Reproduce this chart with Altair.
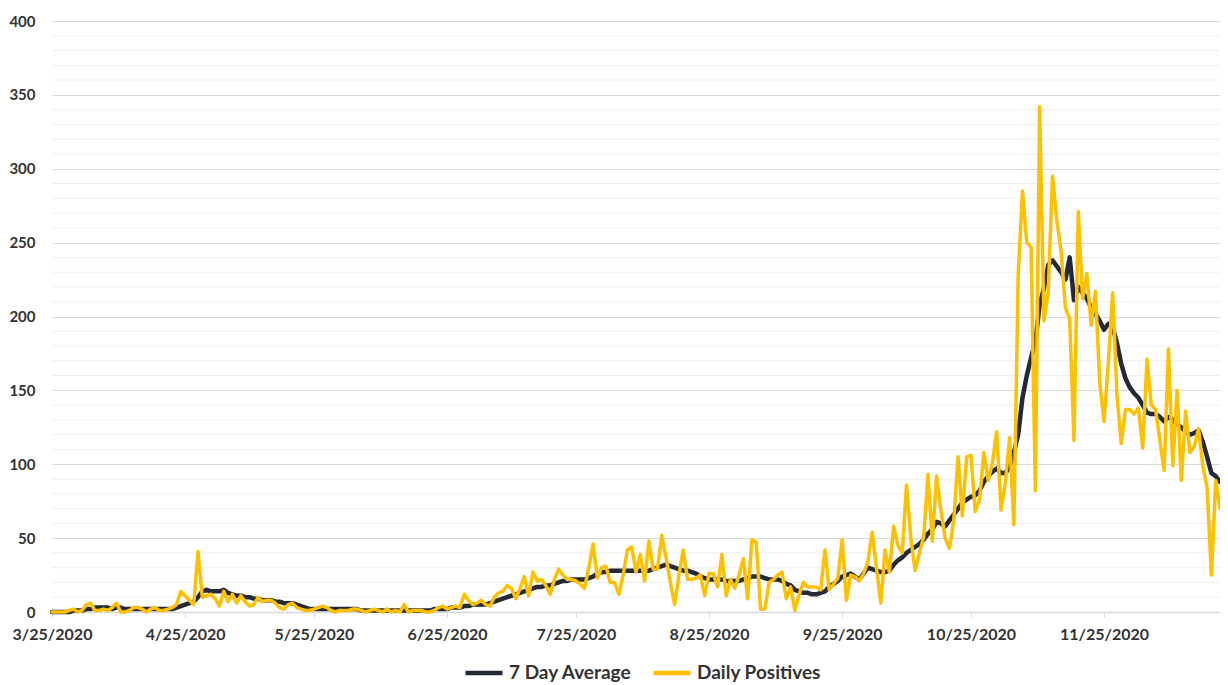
import altair as alt
import pandas as pd

start_date = "2020-03-25"
series_names = ["7 Day Average", "Daily Positives"]
series_colors = ["#232a36", "#ffc000"]

daily_positives = [
    0, 0, 0, 0, 1, 2, 0, 1, 5, 6, 1, 1, 2, 1, 3, 6, 0, 0, 1, 3, 3, 2, 0, 2, 3, 1, 1, 2, 3, 5,
    14, 11, 8, 5, 41, 10, 11, 12, 9, 4, 14, 7, 12, 6, 11, 7, 4, 5, 10, 7, 8, 8, 6, 3, 2, 5, 6, 3, 2, 1,
    1, 2, 3, 4, 3, 1, 0, 1, 1, 1, 2, 2, 1, 0, 1, 2, 1, 0, 2, 0, 1, 0, 5, 0, 1, 1, 1, 0, 0, 1,
    3, 4, 2, 3, 4, 3, 12, 8, 5, 6, 8, 5, 4, 10, 13, 14, 18, 16, 9, 16, 24, 11, 27, 21, 22, 18, 12, 22, 29, 25,
    22, 22, 21, 19, 16, 30, 46, 23, 30, 31, 20, 20, 12, 25, 42, 44, 27, 39, 21, 48, 29, 29, 52, 37, 20, 5, 25, 42, 22, 22,
    23, 25, 11, 26, 26, 17, 39, 11, 22, 16, 25, 36, 9, 49, 47, 2, 2, 20, 22, 25, 27, 9, 17, 1, 12, 20, 17, 17, 17, 15,
    42, 15, 19, 23, 49, 8, 25, 24, 21, 26, 34, 54, 30, 6, 42, 27, 58, 45, 40, 86, 50, 28, 40, 51, 93, 48, 92, 69, 50, 43,
    62, 105, 65, 105, 106, 68, 76, 108, 89, 101, 122, 69, 87, 118, 59, 228, 285, 250, 247, 82, 342, 197, 217, 295, 265, 244, 206, 198, 116, 271,
    212, 229, 194, 217, 155, 129, 169, 216, 147, 114, 137, 137, 134, 138, 111, 171, 140, 137, 116, 96, 178, 99, 150, 89, 136, 108, 112, 124, 99, 84,
    25, 89, 70,
]

seven_day_avg = [
    0, 0, 0, 0, 0, 1, 1, 1, 2, 2, 3, 3, 3, 3, 2, 3, 3, 2, 2, 2, 2, 2, 2, 2, 2, 2, 2, 2, 2, 3,
    4, 5, 6, 7, 10, 14, 15, 14, 14, 14, 15, 13, 12, 11, 11, 10, 10, 9, 9, 8, 8, 8, 7, 7, 6, 6, 6, 5, 4, 3,
    2, 2, 2, 2, 2, 2, 2, 2, 2, 2, 2, 2, 1, 1, 1, 1, 1, 1, 1, 1, 1, 1, 1, 1, 1, 1, 1, 1, 1, 2,
    2, 2, 2, 3, 3, 3, 4, 4, 5, 5, 5, 5, 6, 7, 8, 9, 10, 11, 12, 13, 14, 15, 16, 17, 17, 18, 18, 19, 20, 21,
    21, 22, 22, 22, 22, 23, 24, 26, 27, 27, 28, 28, 28, 28, 28, 28, 28, 28, 28, 28, 29, 30, 31, 32, 31, 30, 29, 28, 28, 27,
    26, 24, 23, 22, 22, 22, 22, 21, 21, 21, 21, 22, 23, 24, 24, 24, 23, 22, 22, 22, 21, 19, 18, 15, 14, 13, 13, 12, 12, 13,
    14, 17, 19, 21, 24, 25, 26, 24, 22, 26, 30, 29, 28, 27, 27, 28, 32, 35, 37, 40, 42, 44, 46, 49, 53, 56, 61, 60, 58, 62,
    66, 70, 74, 76, 78, 79, 82, 88, 92, 95, 97, 94, 94, 98, 108, 120, 145, 160, 172, 183, 208, 219, 235, 238, 234, 230, 225, 240, 211, 220,
    216, 212, 206, 202, 197, 191, 195, 193, 182, 168, 158, 152, 148, 145, 140, 135, 134, 134, 132, 129, 132, 130, 127, 125, 122, 120, 121, 123, 115, 105,
    94, 92, 88,
]

tick_months = [3, 4, 5, 6, 7, 8, 9, 10, 11]
y_ticks = [0, 50, 100, 150, 200, 250, 300, 350, 400]
minor_grid = [v for v in range(10, 400, 10) if v % 50 != 0]

dates = list(pd.date_range(start_date, periods=len(daily_positives), freq="D").strftime("%Y-%m-%dT00:00:00"))
df = pd.DataFrame({
    "date": dates + dates,
    "value": seven_day_avg + daily_positives,
    "series": [series_names[0]] * len(dates) + [series_names[1]] * len(dates),
})

font = "Lato"
label_color = "#333333"

y_axis = alt.Axis(values=y_ticks, grid=True, gridColor="#d9d9d9", gridWidth=1,
                  domain=False, ticks=False, labelPadding=17, labelFont=font,
                  labelFontSize=15, labelFontWeight="bold", labelColor=label_color)
y_scale = alt.Scale(domain=[0, 400], nice=False)

x_scale = alt.Scale(domain=[alt.DateTime(year=2020, month=3, date=25),
                            alt.DateTime(year=2020, month=12, date=22)])
x_axis = alt.Axis(values=[alt.DateTime(year=2020, month=m, date=25) for m in tick_months],
                  format="%-m/%-d/%Y", grid=False, domainColor="#d9d9d9", domainWidth=1.5,
                  tickColor="#d9d9d9", tickSize=5, labelPadding=9, labelFont=font,
                  labelFontSize=16, labelFontWeight="bold", labelColor=label_color,
                  labelFlush=False)

color = alt.Color("series:N", scale=alt.Scale(domain=series_names, range=series_colors),
                  legend=alt.Legend(title=None, orient="none", direction="horizontal",
                                    legendX=411, legendY=631, symbolType="stroke",
                                    symbolSize=1369, symbolStrokeWidth=4.5,
                                    labelFont=font, labelFontSize=19, labelFontWeight="bold",
                                    labelColor="#333333", labelOffset=4, columnPadding=12,
                                    padding=0))

minor = alt.Chart(pd.DataFrame({"v": minor_grid})).mark_rule(color="#eeeeee", strokeWidth=1).encode(
    y=alt.Y("v:Q", scale=y_scale, axis=y_axis, title=None)
)

avg_line = alt.Chart(df[df.series == series_names[0]]).mark_line(
    strokeWidth=4.5, strokeJoin="round", strokeCap="round"
).encode(
    x=alt.X("date:T", scale=x_scale, axis=x_axis, title=None),
    y=alt.Y("value:Q", scale=y_scale, axis=y_axis, title=None),
    color=color,
)

daily_line = alt.Chart(df[df.series == series_names[1]]).mark_line(
    strokeWidth=3.5, strokeJoin="round", strokeCap="round"
).encode(
    x=alt.X("date:T", scale=x_scale, axis=x_axis, title=None),
    y=alt.Y("value:Q", scale=y_scale, axis=y_axis, title=None),
    color=color,
)

chart = alt.layer(minor, avg_line, daily_line).properties(
    width=1168, height=591,
    padding={"left": 44, "top": 13, "right": 0, "bottom": 73},
    autosize=alt.AutoSizeParams(type="none"),
    background="white",
).configure_view(stroke=None)

chart.save("out.html", embed_options={"renderer": "svg", "actions": False})
